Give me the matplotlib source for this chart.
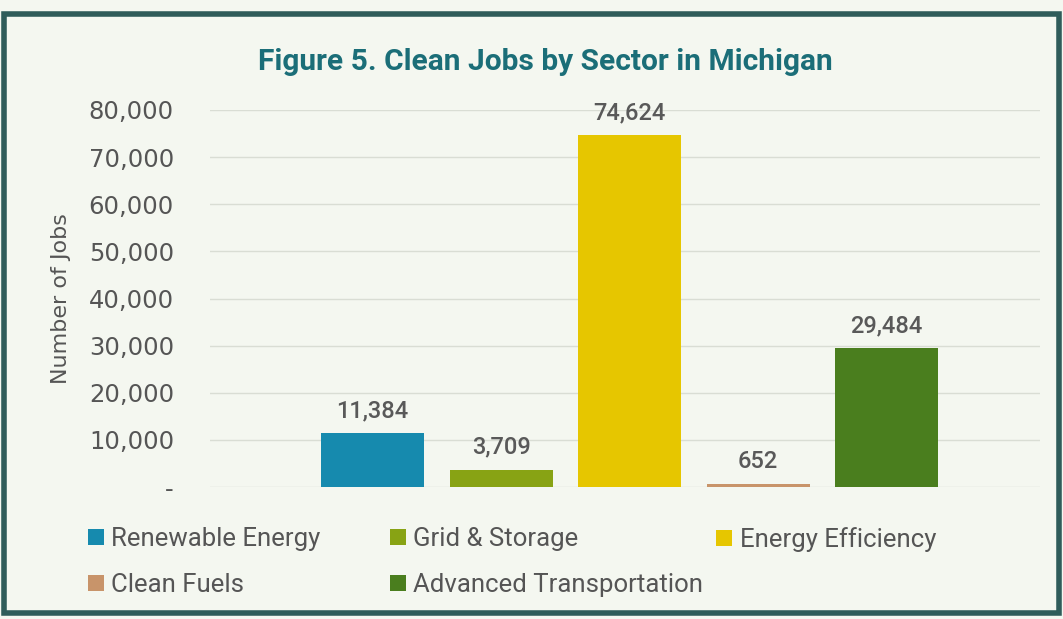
import matplotlib
matplotlib.use("Agg")
import matplotlib.pyplot as plt
import matplotlib.ticker as ticker
from matplotlib.patches import Rectangle, Patch

# values
sectors = ["Renewable Energy", "Grid & Storage", "Energy Efficiency",
           "Clean Fuels", "Advanced Transportation"]
jobs = [11384, 3709, 74624, 652, 29484]
colors = ["#168aae", "#88a314", "#e6c600", "#c8946a", "#4a7e1e"]
yticks = [0, 10000, 20000, 30000, 40000, 50000, 60000, 70000, 80000]

narrow = "Roboto"

fig = plt.figure(figsize=(10.63, 6.19), dpi=100)
fig.patch.set_facecolor("#f4f7f0")
ax = fig.add_axes([0.1976, 0.2132, 0.7804, 0.6091])
ax.set_facecolor("#f4f7f0")

x = list(range(len(sectors)))
bars = ax.bar(x, jobs, width=0.8, color=colors, zorder=3)
for xi, v in zip(x, jobs):
    ax.annotate(f"{v:,}", (xi, v), xytext=(0, 8), textcoords="offset points",
                ha="center", va="bottom", fontsize=17, color="#595959",
                fontfamily=narrow, fontweight="medium")

ax.set_xlim(-1.265, 5.19)
ax.set_ylim(0, 80000)
ax.set_yticks(yticks)
ax.yaxis.set_major_formatter(ticker.FuncFormatter(lambda v, p: "-" if v == 0 else f"{int(v):,}"))
ax.tick_params(axis="y", length=0, pad=26, labelsize=17.5, labelcolor="#555555")
ax.set_xticks([])
ax.grid(axis="y", color="#d9ddd4", linewidth=1, zorder=0)
for s in ax.spines.values():
    s.set_visible(False)
ax.set_ylabel("Number of Jobs", fontsize=16, color="#555555")
ax.yaxis.set_label_coords(-0.168, 0.5)

fig.text(0.513, 0.9, "Figure 5. Clean Jobs by Sector in Michigan", ha="center", va="center",
         fontsize=21.5, fontweight="bold", color="#1b6e78", fontfamily=narrow)

# one legend per column, rows follow the reference order
columns = [([0, 3], 0.083), ([1, 4], 0.367), ([2], 0.674)]
for idx, xpos in columns:
    handles = [Patch(facecolor=colors[i]) for i in idx]
    labels = [sectors[i] for i in idx]
    fig.legend(handles, labels, ncol=1, loc="upper left", bbox_to_anchor=(xpos, 0.148),
               frameon=False, handlelength=0.6, handleheight=0.6,
               handletextpad=0.3, labelspacing=0.85, borderpad=0, borderaxespad=0,
               prop={"family": narrow, "size": 18.5}, labelcolor="#555555")

fig.patches.append(Rectangle((0.004, 0.01), 0.992, 0.967, transform=fig.transFigure,
                             fill=False, edgecolor="#2f5c5a", linewidth=4))

fig.savefig("out.png", dpi=100, facecolor=fig.get_facecolor())
